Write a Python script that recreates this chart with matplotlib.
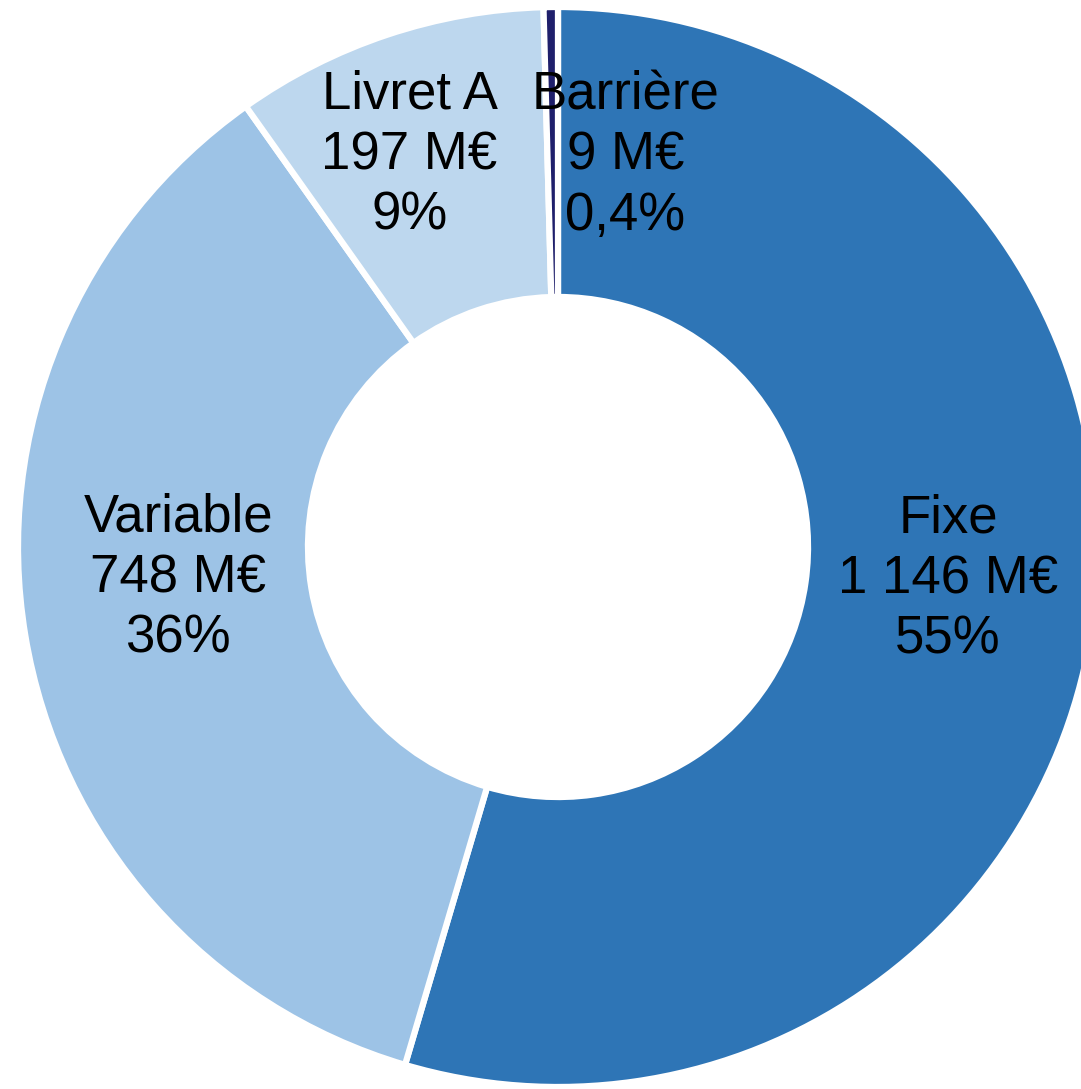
import numpy as np
import matplotlib.pyplot as plt

plt.rcParams['font.family'] = ['Liberation Sans', 'DejaVu Sans']

categories = ['Fixe', 'Variable', 'Livret A', 'Barrière']
montants = [1146, 748, 197, 9]
montant_labels = ['1 146 M€', '748 M€', '197 M€', '9 M€']
pct_labels = ['55%', '36%', '9%', '0,4%']
couleurs = ['#2E75B6', '#9DC3E6', '#BDD7EE', '#1F1F6B']

fig = plt.figure(figsize=(10.81, 10.89), dpi=100)
ax = fig.add_axes([18 / 1081, 2 / 1089, 1080 / 1081, 1080 / 1089])

wedges, _ = ax.pie(montants, colors=couleurs, startangle=90, counterclock=False,
                   radius=1.0, wedgeprops=dict(width=0.537, edgecolor='white', linewidth=4.5))

# position des étiquettes (ajustées à la main comme dans l'original)
decalage = {'Fixe': (0.0, 0.045), 'Variable': (0.007, 0.06), 'Livret A': (-0.03, -0.01), 'Barrière': (0.135, -0.03)}
rayon_lbl = [0.73, 0.72, 0.775, 0.755]
for w, cat, m, p, r in zip(wedges, categories, montant_labels, pct_labels, rayon_lbl):
    ang = np.deg2rad((w.theta1 + w.theta2) / 2)
    dx, dy = decalage[cat]
    ax.text(r * np.cos(ang) + dx, r * np.sin(ang) + dy, f'{cat}\n{m}\n{p}',
            ha='center', va='center', fontsize=38, linespacing=1.27, color='black')

ax.set_xlim(-1, 1)
ax.set_ylim(-1, 1)
ax.set_aspect('equal')
ax.axis('off')

fig.savefig('out.png', dpi=100)
